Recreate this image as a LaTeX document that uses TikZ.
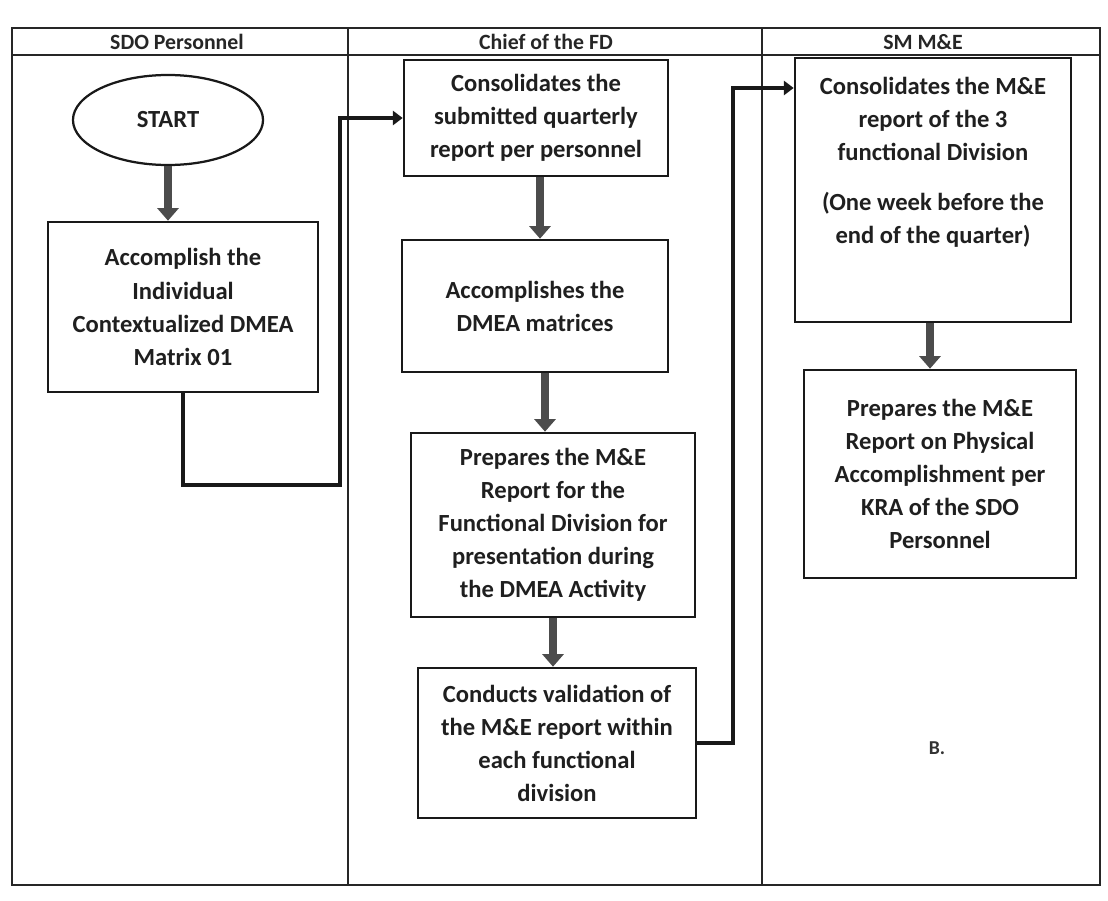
\documentclass[tikz,border=0pt]{standalone}
\usepackage{fontspec}
\setmainfont{Carlito}
\usepackage{tikz}
\usetikzlibrary{shapes.geometric,arrows.meta,positioning,calc}

\begin{document}
\begin{tikzpicture}[
    x=0.025cm, y=-0.025cm,
    lane/.style={line width=0.9pt, draw=black!85},
    head/.style={font=\fontsize{15.5}{18}\selectfont\bfseries, text=black!85},
    task/.style={draw=black!90, line width=1.8pt, align=center, inner sep=4pt,
        font=\fontsize{17.5}{23.5}\selectfont\bfseries, text=black!88},
    oval/.style={draw=black!90, line width=1.6pt, ellipse, align=center,
        font=\fontsize{17.5}{20}\selectfont\bfseries, text=black!88},
    arr/.style={-{Triangle[length=9pt,width=15pt]}, line width=5.5pt, draw=black!70},
    conn/.style={-{Triangle[length=7pt,width=10pt]}, line width=3.5pt, draw=black!90},
    note/.style={font=\fontsize{14}{16}\selectfont\bfseries, text=black!80},
]
\useasboundingbox (0,0) rectangle (1108,900);

% swimlanes
\draw[lane] (12,28) rectangle (1100,885);
\draw[lane] (12,55) -- (1100,55);
\draw[lane] (348,28) -- (348,885);
\draw[lane] (762,28) -- (762,885);
\node[head] (h_sdo)   at (177,42) {SDO Personnel};
\node[head] (h_chief) at (546,42) {Chief of the FD};
\node[head] (h_sm)    at (923,42) {SM M\&E};

% SDO Personnel
\node[oval, minimum width=4.75cm, minimum height=2.25cm] (start) at (168,120) {START};
\node[task, minimum width=6.75cm, minimum height=4.25cm] (acc) at (183,307)
    {Accomplish the\\ Individual\\ Contextualized DMEA\\ Matrix 01};

% Chief of the FD
\node[task, minimum width=6.6cm, minimum height=2.9cm] (cons) at (536,118)
    {Consolidates the\\ submitted quarterly\\ report per personnel};
\node[task, minimum width=6.65cm, minimum height=3.3cm] (mat) at (535,306)
    {Accomplishes the\\ DMEA matrices};
\node[task, minimum width=7.1cm, minimum height=4.6cm] (prep) at (553,525)
    {Prepares the M\&E\\ Report for the\\ Functional Division for\\ presentation during\\ the DMEA Activity};
\node[task, minimum width=6.95cm, minimum height=3.75cm] (valid) at (557,743)
    {Conducts validation of\\ the M\&E report within\\ each functional\\ division};

% SM M&E
\node[task, minimum width=6.9cm, minimum height=6.6cm] (smcons) at (933,190)
    {Consolidates the M\&E\\ report of the 3\\ functional Division\\[12pt] (One week before the\\ end of the quarter)\\[0.65cm]~};
\node[task, minimum width=6.8cm, minimum height=5.2cm] (smprep) at (940,474)
    {Prepares the M\&E\\ Report on Physical\\ Accomplishment per\\ KRA of the SDO\\ Personnel};
\node[note] (mark) at (937,748) {B.};

% arrows
\coordinate (b1) at (340,485);
\coordinate (t2) at (733,88);
\draw[arr] (start) -- (acc.north -| start);
\draw[conn] (acc.south) |- (b1) |- (cons.west);
\draw[arr] (cons.south -| 540,0) -- (mat.north -| 540,0);
\draw[arr] (mat.south -| 545,0) -- (prep.north -| 545,0);
\draw[arr] (prep.south -| 553,0) -- (valid.north -| 553,0);
\draw[conn] (valid.east) -| (t2) -- (smcons.west |- t2);
\draw[arr] (smcons.south -| 930,0) -- (smprep.north -| 930,0);

\end{tikzpicture}
\end{document}
